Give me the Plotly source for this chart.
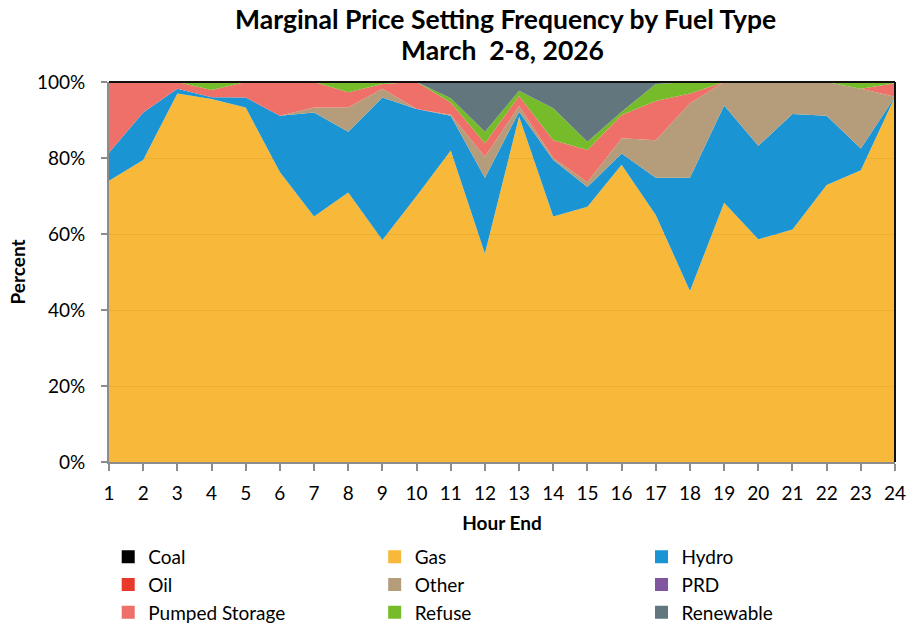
import plotly.graph_objects as go

hours = list(range(1, 25))
tick_labels = [str(h) for h in hours]

coal = [0.0] * 24
gas = [74.0, 79.5, 97.0, 95.5, 93.3, 76.3, 64.6, 70.9, 58.4, 70.0, 82.0, 54.9,
       90.9, 64.6, 67.2, 78.2, 65.0, 45.0, 68.2, 58.6, 61.2, 72.9, 76.8, 96.1]
hydro = [7.4, 12.5, 1.2, 0.5, 2.6, 14.8, 27.4, 16.0, 37.5, 22.9, 9.1, 19.9,
         1.3, 14.9, 5.2, 3.0, 9.8, 29.8, 25.6, 24.6, 30.4, 18.2, 5.7, 0.0]
oil = [0.0] * 24
other = [0.0, 0.0, 0.0, 0.0, 0.0, 0.0, 1.3, 6.4, 2.3, 0.0, 0.3, 5.5,
         1.5, 0.5, 1.2, 4.0, 9.9, 19.6, 6.2, 16.8, 8.4, 8.9, 15.7, 0.0]
prd = [0.0] * 24
pumped = [18.6, 8.0, 1.8, 1.9, 4.1, 8.9, 6.7, 4.0, 1.3, 7.1, 3.2, 3.6,
          2.6, 4.7, 8.5, 6.1, 10.3, 2.6, 0.0, 0.0, 0.0, 0.0, 0.0, 3.6]
refuse = [0.0, 0.0, 0.0, 2.1, 0.0, 0.0, 0.0, 2.7, 0.5, 0.0, 1.1, 3.0,
          1.4, 8.4, 2.2, 0.9, 4.5, 3.0, 0.0, 0.0, 0.0, 0.0, 1.8, 0.3]
renewable = [0.0, 0.0, 0.0, 0.0, 0.0, 0.0, 0.0, 0.0, 0.0, 0.0, 4.3, 13.1,
             2.3, 6.9, 15.7, 7.8, 0.5, 0.0, 0.0, 0.0, 0.0, 0.0, 0.0, 0.0]

series = [
    ("Coal", coal, "#000000", "#000000"),
    ("Gas", gas, "rgba(247,174,31,0.88)", "#F8B83A"),
    ("Hydro", hydro, "#1A94D2", "#1A94D2"),
    ("Oil", oil, "#E8392A", "#E8392A"),
    ("Other", other, "#B59D7C", "#B59D7C"),
    ("PRD", prd, "#8155A0", "#8155A0"),
    ("Pumped Storage", pumped, "#EF7068", "#EF7068"),
    ("Refuse", refuse, "#76BC2A", "#76BC2A"),
    ("Renewable", renewable, "#62767E", "#62767E"),
]

FONT = "Lato"
fig = go.Figure()
for name, vals, fill, _ in series:
    fig.add_trace(go.Scatter(
        x=hours, y=vals, name=name, mode="lines", stackgroup="one",
        fillcolor=fill, line=dict(width=0, color=fill), showlegend=False))

# legend entries as three columns
legend_cols = {
    "Coal": "legend", "Oil": "legend", "Pumped Storage": "legend",
    "Gas": "legend2", "Other": "legend2", "Refuse": "legend2",
    "Hydro": "legend3", "PRD": "legend3", "Renewable": "legend3",
}
for name, vals, _, solid in series:
    fig.add_trace(go.Scatter(
        x=[None], y=[None], name=name, mode="markers",
        marker=dict(symbol="square", size=13, color=solid),
        legend=legend_cols[name], showlegend=True))

leg_common = dict(orientation="v", yanchor="top", y=-0.2,
                  font=dict(family=FONT, size=19, color="#000"),
                  bgcolor="rgba(0,0,0,0)", itemwidth=30, tracegroupgap=0,
                  traceorder="normal")

fig.update_layout(
    width=908, height=627,
    margin=dict(l=109, r=13, t=82, b=165, autoexpand=False),
    paper_bgcolor="white", plot_bgcolor="white",
    font=dict(family=FONT, color="#000"),
    showlegend=True,
    legend=dict(x=-0.001, xanchor="left", **leg_common),
    legend2=dict(x=0.338, xanchor="left", **leg_common),
    legend3=dict(x=0.6775, xanchor="left", **leg_common),
    xaxis=dict(
        range=[1, 24], tickmode="array", tickvals=hours, ticktext=tick_labels,
        showline=True, linecolor="#8c8c8c", linewidth=2, automargin=False,
        ticks="outside", ticklen=7, tickcolor="#8c8c8c", tickwidth=2,
        showgrid=False, zeroline=False,
        tickfont=dict(family=FONT, size=19, color="#000"),
        ticklabelstandoff=6,
        title=dict(text="<b>Hour End</b>", font=dict(family=FONT, size=19, color="#000"), standoff=14),
    ),
    yaxis=dict(
        range=[0, 100], tickvals=[0, 20, 40, 60, 80, 100],
        ticktext=["0%", "20%", "40%", "60%", "80%", "100%"],
        showline=True, linecolor="#8c8c8c", linewidth=2, automargin=False,
        ticks="outside", ticklen=6, tickcolor="#8c8c8c", tickwidth=2,
        showgrid=True, gridcolor="#a8a8a8", gridwidth=1, zeroline=False,
        tickfont=dict(family=FONT, size=19, color="#000"),
        ticklabelstandoff=12,
        title=dict(text="<b>Percent</b>", font=dict(family=FONT, size=19, color="#000"), standoff=6),
    ),
    shapes=[
        dict(type="line", xref="x domain", yref="y domain", x0=0, x1=1, y0=1, y1=1,
             line=dict(color="#111", width=2)),
        dict(type="line", xref="x domain", yref="y domain", x0=1, x1=1, y0=0, y1=1,
             line=dict(color="#111", width=2)),
    ],
    annotations=[
        dict(text="<b>Marginal Price Setting Frequency by Fuel Type</b>", xref="paper", yref="paper",
             x=0.504, y=1.166, xanchor="center", yanchor="middle", showarrow=False,
             font=dict(family=FONT, size=26.5, color="#000")),
        dict(text="<b>March  2-8, 2026</b>", xref="paper", yref="paper",
             x=0.500, y=1.084, xanchor="center", yanchor="middle", showarrow=False,
             font=dict(family=FONT, size=26.5, color="#000")),
    ],
)

fig.write_html("out.html", config={"displayModeBar": False},
               post_script="document.body.style.margin='0';document.body.style.overflow='hidden';")
